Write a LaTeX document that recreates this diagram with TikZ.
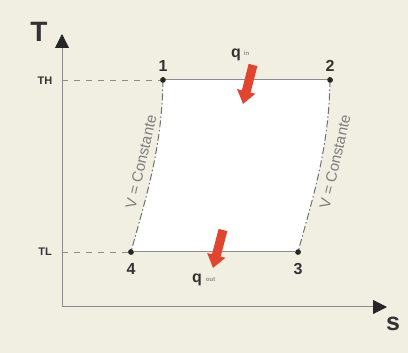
\documentclass[tikz,border=0pt]{standalone}
\usepackage{fontspec}
\setmainfont{Liberation Sans}
\usetikzlibrary{arrows.meta}
\definecolor{bgcol}{HTML}{F0EFE2}
\definecolor{linecol}{HTML}{8C8C8C}
\definecolor{txtcol}{HTML}{333333}
\definecolor{redarrow}{HTML}{E2452F}
\tikzset{
  axis/.style={draw=linecol, line width=1pt, -{Triangle[length=14pt,width=14pt,color=black!85]}},
  guide/.style={draw=linecol, line width=0.8pt, dash pattern=on 6pt off 6pt},
  isoT/.style={draw=linecol, line width=1pt},
  isoV/.style={draw=linecol!80!black, line width=1pt, dash pattern=on 7pt off 2.5pt on 1.5pt off 2.5pt},
  pt/.style={circle, fill=black!85, inner sep=0pt, minimum size=5.5pt},
  num/.style={font=\fontsize{16}{16}\selectfont\bfseries, text=txtcol, inner sep=0pt},
  tlab/.style={font=\fontsize{11}{11}\selectfont\bfseries, text=txtcol, inner sep=0pt},
  vlab/.style={font=\fontsize{15}{15}\selectfont, text=linecol!90!black, inner sep=0pt},
  heat/.style={draw=redarrow, line width=9pt, -{Triangle[length=13pt,width=18pt]}},
}
\begin{document}
\begin{tikzpicture}[x=1pt,y=-1pt]
\fill[bgcol] (0,0) rectangle (408,353);
\useasboundingbox (0,0) rectangle (408,353);
% points
\node[pt] (p1) at (163,80) {};
\node[pt] (p2) at (330,80) {};
\node[pt] (p3) at (298,252) {};
\node[pt] (p4) at (131,252) {};
% interior
\fill[white] (163,80) -- (330,80) .. controls (329,150) and (312,200) .. (298,252) -- (131,252) .. controls (145,200) and (162,150) .. (163,80) -- cycle;
% axes
\coordinate (O) at (62,307);
\coordinate (Ttop) at (62,34);
\coordinate (Send) at (387,307);
\draw[axis] (O) -- (Ttop);
\draw[axis] (O) -- (Send);
\node[font=\fontsize{28}{28}\selectfont\bfseries, text=txtcol] (Tlab) at (39,32) {T};
\node[font=\fontsize{25}{25}\selectfont\bfseries, text=txtcol] (slab) at (393,324) {s};
% guides
\coordinate (yH) at (62,80);
\coordinate (yL) at (62,252);
\draw[guide] (yH) -- (p1);
\draw[guide] (yL) -- (p4);
\node[tlab] (TH) at (45,81) {TH};
\node[tlab] (TL) at (45,252) {TL};
% cycle lines
\draw[isoT] (p1) -- (p2);
\draw[isoT] (p4) -- (p3);
\draw[isoV] (p1.center) .. controls (162,150) and (145,200) .. (p4.center);
\draw[isoV] (p2.center) .. controls (329,150) and (312,200) .. (p3.center);
\foreach \p in {p1,p2,p3,p4} \node[pt] at (\p) {};
% numbers
\node[num] (n1) at (163,66) {1};
\node[num] (n2) at (330,66) {2};
\node[num] (n3) at (298,269) {3};
\node[num] (n4) at (131,269) {4};
% V = constante labels
\node[vlab, rotate=77] (vl) at (141,162) {V = Constante};
\node[vlab, rotate=77] (vr) at (335,162) {V = Constante};
% heat arrows
\coordinate (a1s) at (253,65);
\coordinate (a1e) at (243,104);
\draw[heat] (a1s) -- (a1e);
\coordinate (a2s) at (223,230);
\coordinate (a2e) at (213,268);
\draw[heat] (a2s) -- (a2e);
\node[num, anchor=base west] (qin) at (231,58) {q\hspace{3pt}\raisebox{2pt}{\fontsize{6}{6}\selectfont\color{linecol}in}};
\node[num, anchor=base west] (qout) at (192,283) {q\hspace{4pt}\raisebox{1pt}{\fontsize{6}{6}\selectfont\color{linecol}out}};
\end{tikzpicture}
\end{document}
